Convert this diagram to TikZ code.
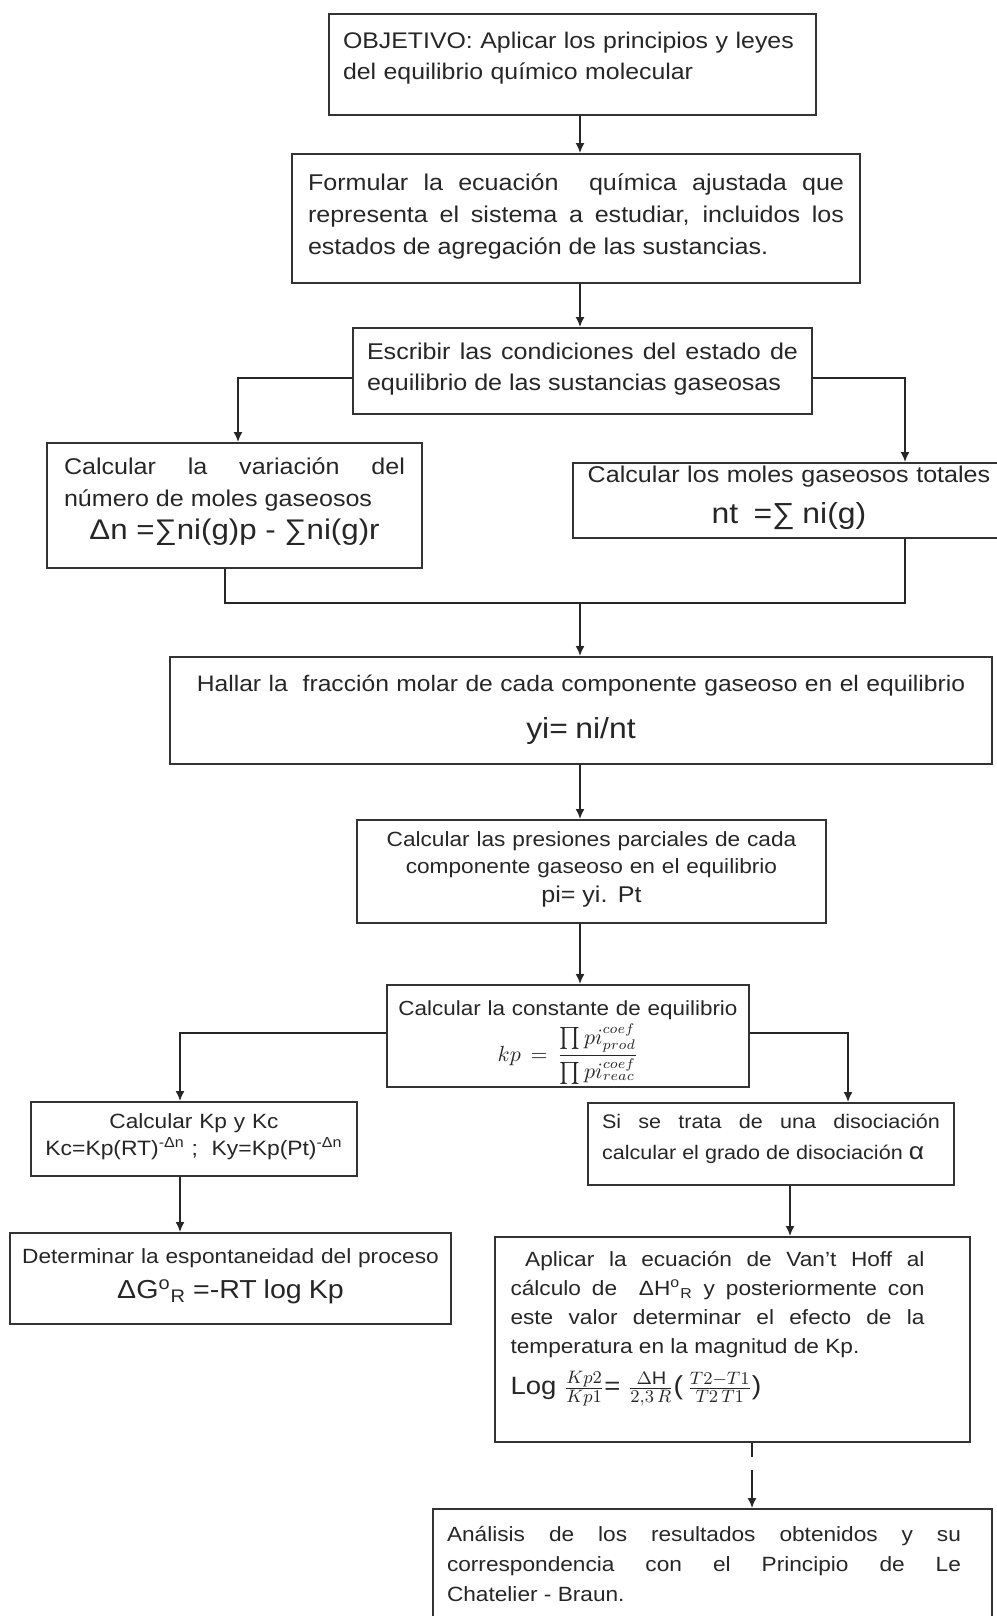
\documentclass[tikz,border=0pt]{standalone}
\usepackage{amsmath}
\usepackage{fontspec}
\setmainfont[FakeStretch=1.1]{Liberation Sans}
\usetikzlibrary{arrows.meta}
\hyphenpenalty=10000
\exhyphenpenalty=10000
\setlength{\parindent}{0pt}

\tikzset{
  box/.style={draw=black!80, line width=1pt, anchor=north west, inner ysep=0pt, inner xsep=7pt, text=black!85},
  flow/.style={line width=0.8pt, draw=black!85},
}

\begin{document}
\begin{tikzpicture}[x=0.5pt,y=-0.5pt,>={Latex[length=5pt,width=4.5pt]}]
        \useasboundingbox (0,0) rectangle (996,1616);

        % the main column of boxes
        \node[box, minimum width=243.5pt, text width=229.5pt, inner xsep=7pt, text height=17.5pt, text depth=33pt,
              align=left, font=\fontsize{11.3}{15.5}\selectfont] (objetivo) at (328,13)
              {OBJETIVO: Aplicar los principios y leyes\\ del equilibrio químico molecular};
        \node[box, minimum width=284pt, text width=268pt, inner xsep=8pt, text height=18pt, text depth=46.5pt,
              align=justify, font=\fontsize{11.4}{16.2}\selectfont] (formular) at (291,153)
              {Formular la ecuación \ química ajustada que\linebreak representa el sistema a estudiar, incluidos los\linebreak estados de agregación de las sustancias.};
        \node[box, minimum width=229.5pt, text width=215.5pt, inner xsep=7pt, text height=15.5pt, text depth=27.5pt,
              align=justify, font=\fontsize{11.4}{15.5}\selectfont] (condiciones) at (352,327)
              {Escribir las condiciones del estado de\linebreak equilibrio de las sustancias gaseosas};

        % the two branches
        \node[box, minimum width=187.5pt, text width=170.5pt, inner xsep=8.5pt, text height=15.5pt, text depth=47pt,
              align=justify, font=\fontsize{11.4}{16}\selectfont] (variacion) at (46,442)
              {Calcular la variación del\linebreak número de moles gaseosos\par
               {\centering\fontsize{14.2}{16.5}\selectfont Δn =∑ni(g)p - ∑ni(g)r\par}};
        \node[box, minimum width=216pt, text width=208pt, inner xsep=4pt, text height=9.5pt, text depth=28pt,
              align=center, font=\fontsize{11.4}{20.5}\selectfont] (totales) at (572,462)
              {Calcular los moles gaseosos totales\\ {\fontsize{14.5}{20.5}\selectfont nt \ =∑ ni(g)}};

        \node[box, minimum width=411pt, text width=400pt, inner xsep=5.5pt, text height=17pt, text depth=36.5pt,
              align=center, font=\fontsize{11.2}{23.5}\selectfont] (fraccion) at (169,656)
              {Hallar la \ fracción molar de cada componente gaseoso en el equilibrio\\ {\fontsize{14.5}{23.5}\selectfont yi= ni/nt}};
        \node[box, minimum width=234.5pt, text width=222.5pt, inner xsep=6pt, text height=13pt, text depth=38.5pt,
              align=center, font=\fontsize{10.3}{13.5}\selectfont] (presiones) at (356,819)
              {Calcular las presiones parciales de cada\\ componente gaseoso en el equilibrio\\[1pt] {\fontsize{11.4}{13.5}\selectfont pi= yi. Pt}};
        \node[box, minimum width=181pt, text width=175pt, inner xsep=3pt, text height=15pt, text depth=36pt,
              align=center, font=\fontsize{10.2}{13.5}\selectfont] (constante) at (386,984)
              {Calcular la constante de equilibrio\\[1.5pt]
               {\fontsize{10.6}{13.5}\selectfont $\displaystyle kp\mkern8mu{=}\mkern8mu\frac{\prod pi^{coef}_{prod}}{\prod pi^{coef}_{reac}}$}};

        % left side
        \node[box, minimum width=163pt, text width=161pt, inner xsep=1pt, text height=13pt, text depth=24pt,
              align=center, font=\fontsize{10.3}{13.5}\selectfont] (kpkc) at (30,1101)
              {Calcular Kp y Kc\\ {\fontsize{10.4}{13.5}\selectfont\mbox{Kc=Kp(RT)\textsuperscript{-Δn} ; \ Ky=Kp(Pt)\textsuperscript{-Δn}}}};
        \node[box, minimum width=220.5pt, text width=214.5pt, inner xsep=3pt, text height=15pt, text depth=30.5pt,
              align=center, font=\fontsize{10.3}{17.5}\selectfont] (espontaneidad) at (9,1232)
              {Determinar la espontaneidad del proceso\\ {\fontsize{13}{17.5}\selectfont ΔG\textsuperscript{o}\textsubscript{R} =-RT log Kp}};

        % right side
        \node[box, minimum width=183pt, text width=169pt, inner xsep=7pt, text height=12.5pt, text depth=28.5pt,
              align=justify, font=\fontsize{9.8}{15.5}\selectfont] (disociacion) at (587,1102)
              {Si se trata de una disociación\linebreak calcular el grado de disociación {\fontsize{12}{15.5}\selectfont α}};
        \node[box, minimum width=237.5pt, text width=230pt, inner xsep=3.75pt, text height=14.5pt, text depth=88pt,
              align=justify, font=\fontsize{10.3}{14.5}\selectfont] (vanthoff) at (494,1236)
              {\leftskip=4pt\rightskip=19pt\relax
               \ Aplicar la ecuación de Van't Hoff al\linebreak cálculo de \ ΔH\textsuperscript{o}\textsubscript{R} y posteriormente con\linebreak
               este valor determinar el efecto de la\linebreak temperatura en la magnitud de Kp.\par\vspace{6pt}
               {\fontsize{12.5}{14.5}\selectfont Log {\fontsize{13}{14.5}\selectfont$\frac{Kp2}{Kp1}$}= {\fontsize{13}{14.5}\selectfont$\frac{\Delta\mathrm{H}}{2{,}3\,R}$(\,$\frac{T2-T1}{T2\,T1}$)}}\par};
        \node[box, minimum width=279.5pt, text width=271.5pt, inner xsep=4pt, text height=16pt, text depth=50pt,
              align=justify, font=\fontsize{10.3}{15}\selectfont] (analisis) at (432,1508)
              {\leftskip=3pt\rightskip=11.5pt\relax
               Análisis de los resultados obtenidos y su\linebreak correspondencia con el Principio de Le\linebreak Chatelier - Braun.\par};

        % points where the lines turn
        \coordinate (trunk) at (580,0);
        \coordinate (splitL) at (238,378);
        \coordinate (splitR) at (905,378);
        \coordinate (joinL) at (225,603);
        \coordinate (joinR) at (905,603);
        \coordinate (merge) at (580,603);
        \coordinate (sideL) at (180,1033);
        \coordinate (sideR) at (848,1033);
        \coordinate (down) at (790,0);
        \coordinate (tick) at (752,1457);
        \coordinate (gap) at (752,1470);

        % draw the connectors
        \draw[flow,->] (objetivo.south -| trunk) -- (formular.north -| trunk);
        \draw[flow,->] (formular.south -| trunk) -- (condiciones.north -| trunk);
        \draw[flow,->] (condiciones.west |- splitL) -| (variacion.north -| splitL);
        \draw[flow,->] (condiciones.east |- splitR) -| (totales.north -| splitR);
        \draw[flow] (variacion.south -| joinL) -- (joinL) -- (joinR) -- (totales.south -| joinR);
        \draw[flow,->] (merge) -- (fraccion.north -| merge);
        \draw[flow,->] (fraccion.south -| trunk) -- (presiones.north -| trunk);
        \draw[flow,->] (presiones.south -| trunk) -- (constante.north -| trunk);
        \draw[flow,->] (constante.west |- sideL) -| (kpkc.north -| sideL);
        \draw[flow,->] (constante.east |- sideR) -| (disociacion.north -| sideR);
        \draw[flow,->] (kpkc.south -| sideL) -- (espontaneidad.north -| sideL);
        \draw[flow,->] (disociacion.south -| down) -- (vanthoff.north -| down);
        \draw[flow] (vanthoff.south -| tick) -- (tick);
        \draw[flow,->] (gap) -- (analisis.north -| gap);
\end{tikzpicture}
\end{document}
